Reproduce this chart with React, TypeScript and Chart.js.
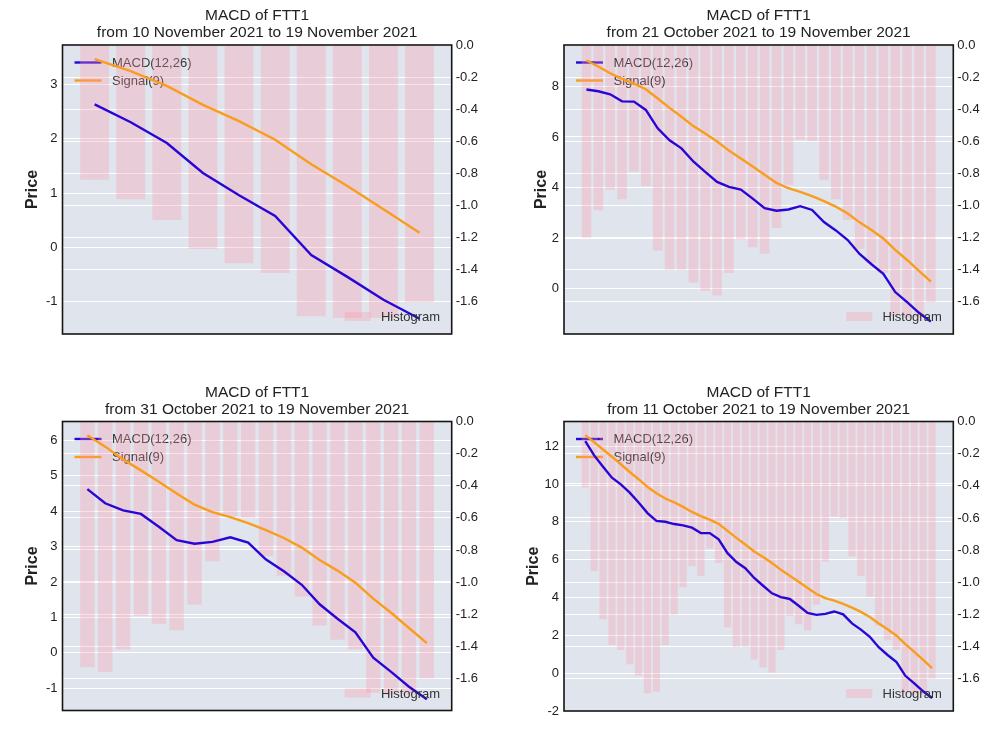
import React, { useEffect, useRef } from "react";
import { Chart, registerables } from "chart.js";

Chart.register(...registerables);

// ---- data (one daily series, 11 Oct 2021 .. 19 Nov 2021) ----
const dates = [
  "11 October 2021", "12 October 2021", "13 October 2021", "14 October 2021", "15 October 2021",
  "16 October 2021", "17 October 2021", "18 October 2021", "19 October 2021", "20 October 2021",
  "21 October 2021", "22 October 2021", "23 October 2021", "24 October 2021", "25 October 2021",
  "26 October 2021", "27 October 2021", "28 October 2021", "29 October 2021", "30 October 2021",
  "31 October 2021", "1 November 2021", "2 November 2021", "3 November 2021", "4 November 2021",
  "5 November 2021", "6 November 2021", "7 November 2021", "8 November 2021", "9 November 2021",
  "10 November 2021", "11 November 2021", "12 November 2021", "13 November 2021", "14 November 2021",
  "15 November 2021", "16 November 2021", "17 November 2021", "18 November 2021", "19 November 2021",
];

const macdValues = [
  12.26, 11.51, 10.91, 10.33, 9.98, 9.54, 9.02, 8.46, 8.05, 8.0,
  7.88, 7.81, 7.69, 7.41, 7.4, 7.07, 6.34, 5.87, 5.55, 5.03,
  4.62, 4.22, 4.02, 3.92, 3.56, 3.18, 3.08, 3.13, 3.26, 3.11,
  2.63, 2.3, 1.92, 1.37, 0.96, 0.58, -0.14, -0.54, -0.96, -1.31,
];

const signalValues = [
  12.58, 12.21, 11.82, 11.44, 11.04, 10.63, 10.25, 9.84, 9.51, 9.23,
  9.03, 8.79, 8.52, 8.3, 8.11, 7.89, 7.52, 7.15, 6.8, 6.43,
  6.14, 5.82, 5.46, 5.15, 4.83, 4.5, 4.18, 3.97, 3.83, 3.66,
  3.46, 3.24, 2.97, 2.62, 2.32, 1.98, 1.53, 1.13, 0.7, 0.27,
];

const histogramValues = [
  -0.41, -0.93, -1.23, -1.39, -1.42, -1.51, -1.58, -1.69, -1.68, -1.39,
  -1.2, -1.03, -0.9, -0.96, -0.79, -0.88, -1.28, -1.4, -1.4, -1.48,
  -1.53, -1.56, -1.42, -1.21, -1.26, -1.3, -1.14, -0.87, -0.59, -0.6,
  -0.84, -0.96, -1.09, -1.27, -1.36, -1.42, -1.69, -1.7, -1.7, -1.6,
];

// number of trailing days shown in each panel (TL, TR, BL, BR)
const panelDays = [10, 30, 20, 40];

// left (price) axis limits and ticks per panel
const priceMin = [-1.59, -1.8, -1.63, -2.0];
const priceMax = [3.72, 9.64, 6.53, 13.3];
const priceTicks1 = [-1, 0, 1, 2, 3];
const priceTicks2 = [0, 2, 4, 6, 8];
const priceTicks3 = [-1, 0, 1, 2, 3, 4, 5, 6];
const priceTicks4 = [-2, 0, 2, 4, 6, 8, 10, 12];
const priceTicks = [priceTicks1, priceTicks2, priceTicks3, priceTicks4];

// right (histogram) axis
const histMin = -1.8;
const histMax = 0;
const histTicks = [0, -0.2, -0.4, -0.6, -0.8, -1.0, -1.2, -1.4, -1.6];

// ---- styles / layout ----
const FONT = '"Liberation Sans", Arial, sans-serif';
const BG = "#dfe4ed";
const BLUE = "#2a06d6";
const ORANGE = "#f99d1c";
const BAR = "rgba(255,150,165,0.3)";
const TEXT = "#222";

type Layout = {
  left: number;
  top: number;
  axisLeft: number;
  axisRight: number;
  padTop: number;
  padBottom: number;
  priceOffset: number;
};

const layouts: Layout[] = [
  { left: 0, top: 0, axisLeft: 62.5, axisRight: 50.3, padTop: 45, padBottom: 42, priceOffset: 29.5 },
  { left: 502, top: 0, axisLeft: 62, axisRight: 50.7, padTop: 45, padBottom: 42, priceOffset: 22 },
  { left: 0, top: 376, axisLeft: 62.5, axisRight: 50.3, padTop: 45.5, padBottom: 41.5, priceOffset: 29.5 },
  { left: 502, top: 376, axisLeft: 62, axisRight: 50.7, padTop: 45.5, padBottom: 41, priceOffset: 30 },
];

const CW = 502;
const CH = 376;

function MacdPanel({ idx }: { idx: number }) {
  const ref = useRef<HTMLCanvasElement | null>(null);
  const lay = layouts[idx];

  useEffect(() => {
    const n = panelDays[idx];
    const start = dates.length - n;
    const macd = macdValues.slice(start).map((y, i) => ({ x: i, y }));
    const signal = signalValues.slice(start).map((y, i) => ({ x: i, y }));
    const hist = histogramValues.slice(start).map((y, i) => ({ x: i, y }));
    const span = n - 1 + 0.8;
    const xMin = -0.4 - 0.05 * span;
    const xMax = n - 1 + 0.4 + 0.05 * span;
    const title1 = "MACD of FTT1";
    const title2 = `from ${dates[start]} to ${dates[dates.length - 1]}`;

    const decor = {
      id: "decor" + idx,
      beforeDraw(chart: any) {
        const { ctx, chartArea: a } = chart;
        ctx.save();
        ctx.fillStyle = "#ffffff";
        ctx.fillRect(0, 0, chart.width, chart.height);
        ctx.fillStyle = BG;
        ctx.fillRect(a.left, a.top, a.right - a.left, a.bottom - a.top);
        ctx.restore();
      },
      beforeDatasetsDraw(chart: any) {
        const { ctx, chartArea: a } = chart;
        ctx.save();
        const items = [
          { label: "MACD(12,26)", color: BLUE, dy: 17.5 },
          { label: "Signal(9)", color: ORANGE, dy: 35.5 },
        ];
        for (const it of items) {
          ctx.strokeStyle = it.color;
          ctx.lineWidth = 2.4;
          ctx.beginPath();
          ctx.moveTo(a.left + 12, a.top + it.dy);
          ctx.lineTo(a.left + 39, a.top + it.dy);
          ctx.stroke();
          ctx.fillStyle = "#333";
          ctx.font = `13px ${FONT}`;
          ctx.textAlign = "left";
          ctx.textBaseline = "middle";
          ctx.fillText(it.label, a.left + 49.5, a.top + it.dy + 0.5);
        }
        ctx.restore();
      },
      afterDraw(chart: any) {
        const { ctx, chartArea: a } = chart;
        ctx.save();
        // frame
        ctx.strokeStyle = "#151515";
        ctx.lineWidth = 1.6;
        ctx.strokeRect(a.left, a.top, a.right - a.left, a.bottom - a.top);
        // titles
        const cx = (a.left + a.right) / 2;
        ctx.fillStyle = TEXT;
        ctx.font = `15.5px ${FONT}`;
        ctx.textAlign = "center";
        ctx.textBaseline = "middle";
        ctx.fillText(title1, cx, a.top - 29);
        ctx.fillText(title2, cx, a.top - 12);
        // y label
        ctx.save();
        ctx.translate(a.left - lay.priceOffset, (a.top + a.bottom) / 2);
        ctx.rotate(-Math.PI / 2);
        ctx.font = `bold 16px ${FONT}`;
        ctx.fillText("Price", 0, 0);
        ctx.restore();
        // histogram legend
        ctx.fillStyle = BAR;
        ctx.fillRect(a.right - 107, a.bottom - 22, 26, 9);
        ctx.fillStyle = "#333";
        ctx.font = `13px ${FONT}`;
        ctx.textAlign = "left";
        ctx.textBaseline = "middle";
        ctx.fillText("Histogram", a.right - 70.8, a.bottom - 16.5);
        ctx.restore();
      },
    };

    const ticksFont = { family: FONT, size: 13 };

    const chart = new Chart(ref.current as HTMLCanvasElement, {
      type: "bar",
      data: {
        datasets: [
          {
            type: "line",
            label: "MACD(12,26)",
            data: macd,
            yAxisID: "y",
            borderColor: BLUE,
            borderWidth: 2.4,
            pointRadius: 0,
            tension: 0,
            fill: false,
            order: 1,
          } as any,
          {
            type: "line",
            label: "Signal(9)",
            data: signal,
            yAxisID: "y",
            borderColor: ORANGE,
            borderWidth: 2.4,
            pointRadius: 0,
            tension: 0,
            fill: false,
            order: 0,
          } as any,
          {
            type: "bar",
            label: "Histogram",
            data: hist,
            yAxisID: "y2",
            backgroundColor: BAR,
            borderWidth: 0,
            barPercentage: 0.8,
            categoryPercentage: 1,
            order: 2,
          } as any,
        ],
      },
      options: {
        animation: false,
        responsive: false,
        events: [],
        layout: { padding: { top: lay.padTop, bottom: lay.padBottom, left: 0, right: 0 } },
        plugins: {
          legend: { display: false },
          tooltip: { enabled: false },
          title: { display: false },
        },
        scales: {
          x: {
            type: "linear",
            min: xMin,
            max: xMax,
            display: false,
            offset: false,
          },
          y: {
            type: "linear",
            position: "left",
            min: priceMin[idx],
            max: priceMax[idx],
            afterBuildTicks: (s: any) => {
              s.ticks = priceTicks[idx].map((v) => ({ value: v }));
            },
            afterFit: (s: any) => {
              s.width = lay.axisLeft;
            },
            grid: { color: "#ffffff", lineWidth: 1, drawTicks: false },
            border: { display: false },
            ticks: {
              padding: 5,
              color: TEXT,
              font: ticksFont,
              callback: (v: any) => String(v),
            },
          },
          y2: {
            type: "linear",
            position: "right",
            min: histMin,
            max: histMax,
            afterBuildTicks: (s: any) => {
              s.ticks = histTicks.map((v) => ({ value: v }));
            },
            afterFit: (s: any) => {
              s.width = lay.axisRight;
            },
            grid: { color: "#ffffff", lineWidth: 1, drawTicks: false },
            border: { display: false },
            ticks: {
              padding: 4,
              color: TEXT,
              font: ticksFont,
              callback: (v: any) => Number(v).toFixed(1),
            },
          },
        } as any,
      },
      plugins: [decor],
    } as any);

    return () => chart.destroy();
  }, [idx]);

  return (
    <canvas
      ref={ref}
      width={CW}
      height={CH}
      style={{ position: "absolute", left: lay.left, top: lay.top, width: CW, height: CH }}
    />
  );
}

export default function App() {
  return (
    <div
      style={{
        position: "fixed",
        left: 0,
        top: 0,
        width: 1004,
        height: 753,
        background: "#ffffff",
        overflow: "hidden",
      }}
    >
      {panelDays.map((_, i) => (
        <MacdPanel key={i} idx={i} />
      ))}
    </div>
  );
}
